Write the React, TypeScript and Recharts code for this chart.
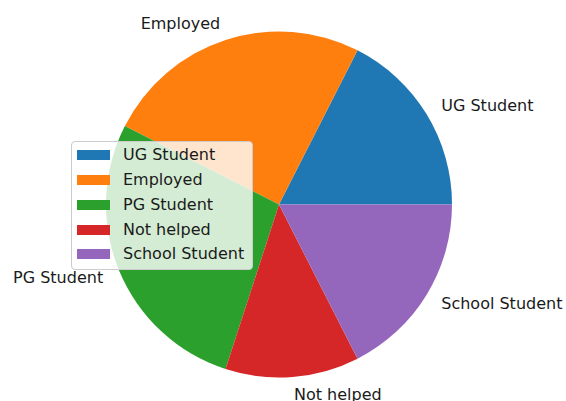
import React from "react";
import { PieChart, Pie, Cell, Legend } from "recharts";

const categories = ["UG Student", "Employed", "PG Student", "Not helped", "School Student"];
const counts = [7, 10, 11, 5, 7];
const colors = ["#1f77b4", "#ff7f0e", "#2ca02c", "#d62728", "#9467bd"];

const data = categories.map((name, i) => ({ name, value: counts[i] }));

const FONT = "'DejaVu Sans', sans-serif";
const RAD = Math.PI / 180;

// matplotlib style label: labeldistance 1.1, left/right aligned by side
const renderLabel = (props: any) => {
  const { cx, cy, midAngle, outerRadius, name } = props;
  const r = outerRadius * 1.1;
  const x = cx + r * Math.cos(-midAngle * RAD);
  const y = cy + r * Math.sin(-midAngle * RAD);
  return (
    <text
      x={x}
      y={y}
      textAnchor={x > cx ? "start" : "end"}
      dominantBaseline="central"
      fontFamily={FONT}
      fontSize={16}
      fill="#1a1a1a"
    >
      {name}
    </text>
  );
};

const renderLegend = (props: any) => {
  // keep the data order, not the alphabetical one
  const payload = [...(props.payload || [])].sort(
    (a: any, b: any) => categories.indexOf(a.value) - categories.indexOf(b.value)
  );
  return (
    <div
      style={{
        background: "rgba(255,255,255,0.8)",
        border: "1px solid #cccccc",
        borderRadius: 4,
        padding: "1px 8px 2px 5px",
        fontFamily: FONT,
        fontSize: 16,
        color: "#1a1a1a",
      }}
    >
      {payload.map((entry: any) => (
        <div key={entry.value} style={{ display: "flex", alignItems: "center", height: 24.75 }}>
          <span style={{ width: 33, height: 10, background: entry.color, marginRight: 13 }} />
          <span style={{ lineHeight: "18px", whiteSpace: "nowrap" }}>{entry.value}</span>
        </div>
      ))}
    </div>
  );
};

export default function App() {
  return (
    <div style={{ position: "fixed", left: 0, top: 0, width: 566, height: 401, background: "#fff" }}>
      <PieChart width={566} height={401} margin={{ top: 0, right: 0, bottom: 0, left: 0 }}>
        <Pie
          data={data}
          dataKey="value"
          nameKey="name"
          cx={279}
          cy={204.5}
          outerRadius={173}
          startAngle={0}
          endAngle={360}
          stroke="none"
          label={renderLabel}
          labelLine={false}
          isAnimationActive={false}
        >
          {data.map((d, i) => (
            <Cell key={d.name} fill={colors[i]} />
          ))}
        </Pie>
        <Legend
          layout="vertical"
          align="center"
          verticalAlign="middle"
          content={renderLegend}
          wrapperStyle={{ position: "absolute", left: 71, top: 141, width: "auto" }}
        />
      </PieChart>
    </div>
  );
}
